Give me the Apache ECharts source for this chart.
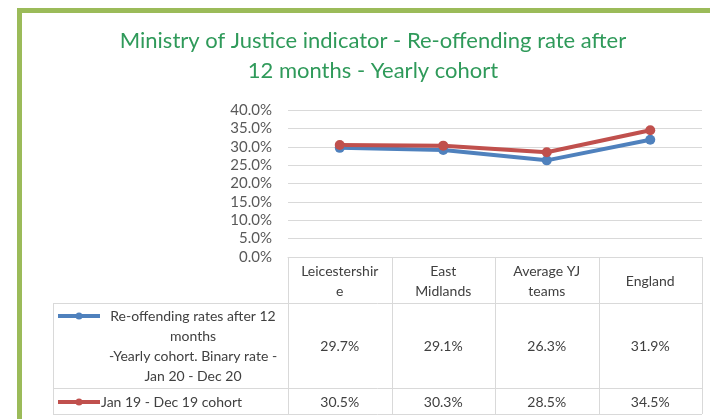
<!DOCTYPE html>
<html>
<head>
<meta charset="utf-8">
<script src="https://cdn.jsdelivr.net/npm/echarts@6/dist/echarts.min.js"></script>
<style>
  html, body { margin: 0; padding: 0; background: #fff; }
  #chart { width: 710px; height: 419px; }
</style>
</head>
<body>
<div id="chart"></div>
<script>
// data
var categories = ['Leicestershire', 'East Midlands', 'Average YJ teams', 'England'];
var headerLabels = ['Leicestershir\ne', 'East\nMidlands', 'Average YJ\nteams', 'England'];
var seriesNames = [
  'Re-offending rates after 12\nmonths\n-Yearly cohort. Binary rate -\nJan 20 - Dec 20',
  'Jan 19 - Dec 19 cohort'
];
var rate2020 = [29.7, 29.1, 26.3, 31.9];
var rate2019 = [30.5, 30.3, 28.5, 34.5];
var yTicks = [0, 5, 10, 15, 20, 25, 30, 35, 40];

var colors = ['#4f81bd', '#c0504d'];
var font = 'Lato, "Open Sans", sans-serif';

// layout
var gridLeft = 288, gridRight = 8, gridTop = 110, gridBottom = 162;
var W = 710, H = 419;
var plotW = W - gridLeft - gridRight;
var colW = plotW / categories.length;
var tableTop = H - gridBottom;   // 257
var headBottom = 303;
var row1Bottom = 388;
var row2Bottom = 414;
var tableLeft = 53;
var tableRight = W - gridRight;
var borderColor = '#d9d9d9';

var myChart = echarts.init(document.getElementById('chart'));

function hline(x1, x2, y) {
  return { type: 'line', shape: { x1: x1, y1: y, x2: x2, y2: y },
    style: { stroke: borderColor, lineWidth: 1 }, silent: true };
}
function vline(x, y1, y2) {
  return { type: 'line', shape: { x1: x, y1: y1, x2: x, y2: y2 },
    style: { stroke: borderColor, lineWidth: 1 }, silent: true };
}
function cellText(str, x, y, align) {
  return { type: 'text', x: x, y: y, silent: true,
    style: { text: str, fill: '#404040', font: '14px ' + font,
      align: align || 'center', verticalAlign: 'middle', lineHeight: 20 } };
}

var graphics = [];
// green frame
graphics.push({ type: 'rect', shape: { x: 19.5, y: 10.5, width: 720, height: 440 },
  style: { fill: 'none', stroke: '#9bbb59', lineWidth: 5 }, silent: true });

// table borders
graphics.push(hline(gridLeft, tableRight, tableTop + 0.5));
graphics.push(hline(tableLeft, tableRight, headBottom + 0.5));
graphics.push(hline(tableLeft, tableRight, row1Bottom + 0.5));
graphics.push(hline(tableLeft, tableRight, row2Bottom + 0.5));
graphics.push(vline(tableLeft + 0.5, headBottom, row2Bottom));
for (var i = 0; i <= categories.length; i++) {
  var x = Math.round(gridLeft + i * colW) + 0.5;
  graphics.push(vline(x, tableTop, row2Bottom));
}

// header and values
var dataRows = [rate2020, rate2019];
var rowMid = [(headBottom + row1Bottom) / 2, (row1Bottom + row2Bottom) / 2];
for (var c = 0; c < categories.length; c++) {
  var cx = gridLeft + (c + 0.5) * colW;
  graphics.push(cellText(headerLabels[c], cx, (tableTop + headBottom) / 2 + 1));
  for (var r = 0; r < dataRows.length; r++) {
    graphics.push(cellText(dataRows[r][c].toFixed(1) + '%', cx, rowMid[r] + 1));
  }
}

// legend keys inside the table
var keyY = [316, 402];
for (var s = 0; s < seriesNames.length; s++) {
  graphics.push({ type: 'line', shape: { x1: 58, y1: keyY[s], x2: 100, y2: keyY[s] },
    style: { stroke: colors[s], lineWidth: 4 }, silent: true });
  graphics.push({ type: 'circle', shape: { cx: 79, cy: keyY[s], r: 3.5 },
    style: { fill: colors[s] }, silent: true });
}
graphics.push(cellText(seriesNames[0], 193, rowMid[0] + 1));
graphics.push(cellText(seriesNames[1], 101, rowMid[1] + 1, 'left'));

var option = {
  animation: false,
  backgroundColor: '#fff',
  title: {
    text: 'Ministry of Justice indicator - Re-offending rate after\n12 months - Yearly cohort',
    left: 368,
    top: 21,
    textAlign: 'center',
    textStyle: { color: '#2f9a5a', fontFamily: font, fontSize: 22, fontWeight: 'normal', lineHeight: 30 }
  },
  grid: { left: gridLeft, right: gridRight, top: gridTop, bottom: gridBottom },
  xAxis: {
    type: 'category',
    data: categories,
    boundaryGap: true,
    axisLine: { show: true, lineStyle: { color: borderColor } },
    axisTick: { show: false },
    axisLabel: { show: false }
  },
  yAxis: {
    type: 'value',
    min: yTicks[0],
    max: yTicks[yTicks.length - 1],
    interval: yTicks[1] - yTicks[0],
    axisLine: { show: false },
    axisTick: { show: false },
    axisLabel: {
      margin: 16,
      color: '#595959',
      fontFamily: font,
      fontSize: 15,
      formatter: function (v) { return v.toFixed(1) + '%'; }
    },
    splitLine: { lineStyle: { color: borderColor, width: 1 } }
  },
  series: [
    {
      name: seriesNames[0], type: 'line', data: rate2020,
      symbol: 'circle', symbolSize: 10,
      lineStyle: { color: colors[0], width: 4 },
      itemStyle: { color: colors[0] }
    },
    {
      name: seriesNames[1], type: 'line', data: rate2019,
      symbol: 'circle', symbolSize: 10,
      lineStyle: { color: colors[1], width: 4 },
      itemStyle: { color: colors[1] }
    }
  ],
  graphic: graphics
};

myChart.setOption(option);
</script>
</body>
</html>
